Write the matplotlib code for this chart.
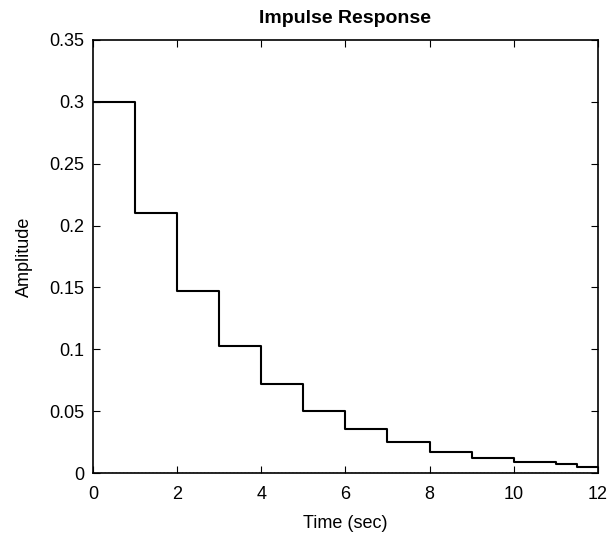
import numpy as np
import matplotlib.pyplot as plt

plt.rcParams['font.family'] = ['Liberation Sans', 'DejaVu Sans']

# sample times and impulse response amplitudes
t = [0, 1, 2, 3, 4, 5, 6, 7, 8, 9, 10, 11, 11.5, 12]
amp = [0.3, 0.21, 0.147, 0.103, 0.072, 0.0504, 0.0353, 0.0247, 0.0173, 0.0121, 0.0085, 0.0075, 0.005, 0.005]

fig = plt.figure(figsize=(6.11, 5.38), dpi=100)
ax = fig.add_axes([0.152, 0.1208, 0.8265, 0.805])

ax.step(t, amp, where='post', color='black', linewidth=1.5)
ax.axhline(0, color='black', linestyle=':', linewidth=1)

ax.set_xlim(0, 12)
ax.set_ylim(0, 0.35)
ax.set_xticks([0, 2, 4, 6, 8, 10, 12])
ax.set_yticks([0, 0.05, 0.1, 0.15, 0.2, 0.25, 0.3, 0.35])
ax.set_yticklabels(['0', '0.05', '0.1', '0.15', '0.2', '0.25', '0.3', '0.35'])
ax.tick_params(direction='in', top=True, right=True, labelsize=13, length=5)
ax.tick_params(axis='x', pad=9)
ax.tick_params(axis='y', pad=6)

ax.set_xlabel('Time (sec)', fontsize=13, labelpad=9)
ax.set_ylabel('Amplitude', fontsize=13, labelpad=12)
ax.set_title('Impulse Response', fontsize=14, fontweight='bold', pad=12)

for s in ax.spines.values():
    s.set_linewidth(1.2)

fig.savefig('out.png', dpi=100)
